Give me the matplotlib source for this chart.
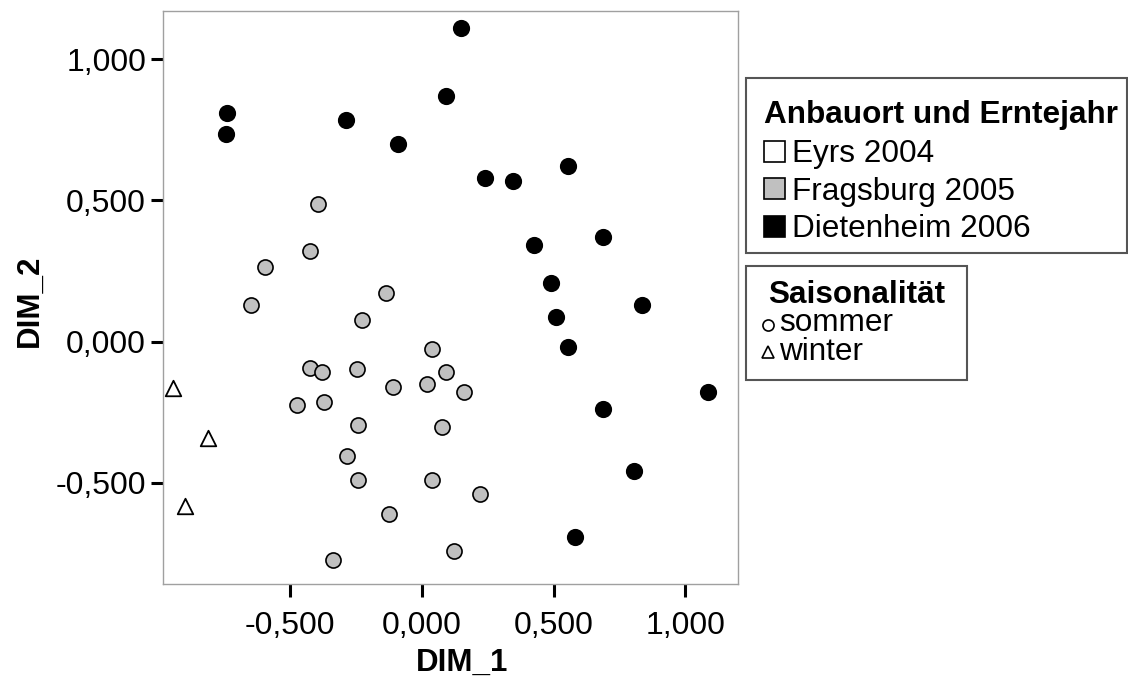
import numpy as np
import matplotlib.pyplot as plt
from matplotlib.patches import Rectangle
from matplotlib.lines import Line2D
from matplotlib.ticker import FuncFormatter

plt.rcParams['font.family'] = ['Liberation Sans', 'DejaVu Sans']

# Dietenheim 2006 (sommer)
diet_x = [-0.741, -0.744, -0.289, 0.149, 0.090, -0.090, 0.239, 0.347, 0.555, 0.426,
          0.688, 0.490, 0.508, 0.555, 0.836, 1.088, 0.688, 0.804, 0.582]
diet_y = [0.811, 0.737, 0.785, 1.110, 0.869, 0.700, 0.581, 0.569, 0.622, 0.341,
          0.370, 0.207, 0.089, -0.019, 0.129, -0.178, -0.237, -0.458, -0.691]

# Fragsburg 2005 (sommer)
frag_x = [-0.394, -0.426, -0.597, -0.647, -0.138, -0.227, -0.424, -0.381, -0.246, 0.037,
          0.092, -0.109, 0.019, 0.159, -0.476, -0.371, -0.285, -0.242, 0.077, -0.244,
          0.039, 0.221, -0.124, 0.123, -0.339]
frag_y = [0.487, 0.322, 0.263, 0.129, 0.171, 0.077, -0.092, -0.107, -0.097, -0.025,
          -0.106, -0.160, -0.151, -0.179, -0.225, -0.212, -0.405, -0.294, -0.302, -0.490,
          -0.490, -0.540, -0.610, -0.740, -0.774]

# Eyrs 2004 (winter)
eyrs_x = [-0.946, -0.811, -0.899]
eyrs_y = [-0.165, -0.342, -0.582]

orte = ['Eyrs 2004', 'Fragsburg 2005', 'Dietenheim 2006']
orte_farben = ['white', '#c0c0c0', 'black']
saison = ['sommer', 'winter']
saison_marker = ['o', '^']
grau = '#c0c0c0'

W, H = 1128, 682
def fx(x):
    return x / W
def fy(y):
    return 1 - y / H

fig = plt.figure(figsize=(W / 100, H / 100), dpi=100)
ax = fig.add_axes([fx(162.7), fy(583.7), 575 / W, 573 / H])

ax.scatter(frag_x, frag_y, s=118, marker='o', facecolor=grau, edgecolor='black', linewidth=1.2, zorder=3)
ax.scatter(diet_x, diet_y, s=125, marker='o', facecolor='black', edgecolor='black', linewidth=1.2, zorder=3)
ax.scatter(eyrs_x, eyrs_y, s=125, marker='^', facecolor='white', edgecolor='black', linewidth=1.3, zorder=3)

ax.set_xlim(-0.984, 1.199)
ax.set_ylim(-0.857, 1.172)
ax.set_xticks([-0.5, 0.0, 0.5, 1.0])
ax.set_yticks([-0.5, 0.0, 0.5, 1.0])
fmt = FuncFormatter(lambda v, p: f"{v:.3f}".replace('.', ','))
ax.xaxis.set_major_formatter(fmt)
ax.yaxis.set_major_formatter(fmt)
ax.tick_params(axis='both', length=9, width=2.2, color='black', labelsize=23)
ax.tick_params(axis='x', pad=10.5)
ax.tick_params(axis='y', pad=3)
for sp in ax.spines.values():
    sp.set_color('#a0a0a0')
    sp.set_linewidth(1.0)

ax.set_xlabel('DIM_1', fontsize=22.5, fontweight='bold')
ax.xaxis.set_label_coords((462 - 162.7) / 575, -(663 - 583.7) / 573)
ax.xaxis.label.set_va('center')
ax.set_ylabel('DIM_2', fontsize=22.5, fontweight='bold')
ax.yaxis.set_label_coords(-(162.7 - 30) / 575, (583.7 - 301) / 573)
ax.yaxis.label.set_va('center')

# Legende 1: Anbauort und Erntejahr
fig.add_artist(Rectangle((fx(746), fy(253.3)), (1127 - 746) / W, (253.3 - 77.7) / H,
                         transform=fig.transFigure, facecolor='white',
                         edgecolor='#555555', linewidth=1.5))
fig.text(fx(764), fy(123.5), 'Anbauort und Erntejahr', fontsize=22.7,
         fontweight='bold', ha='left', va='baseline')
for i, (name, farbe) in enumerate(zip(orte, orte_farben)):
    mitte = 151 + 37.5 * i
    fig.add_artist(Rectangle((fx(764), fy(mitte + 10.5)), 21 / W, 21 / H,
                             transform=fig.transFigure, facecolor=farbe,
                             edgecolor='black', linewidth=1.2))
    fig.text(fx(792), fy(mitte + 11.4), name, fontsize=22.7, ha='left', va='baseline')

# Legende 2: Saisonalität
fig.add_artist(Rectangle((fx(746), fy(380)), (967 - 746) / W, (380 - 266) / H,
                         transform=fig.transFigure, facecolor='white',
                         edgecolor='#555555', linewidth=1.5))
fig.text(fx(856.5), fy(302.5), 'Saisonalität', fontsize=22.7,
         fontweight='bold', ha='center', va='baseline')
zeilen = 27
for i, mk in enumerate(saison_marker):
    basis = 333 + zeilen * i
    fig.add_artist(Line2D([fx(768)], [fy(basis - 8)], marker=mk, markersize=8,
                          markerfacecolor='white', markeredgecolor='black',
                          markeredgewidth=1.2, transform=fig.transFigure))
# beide Einträge als ein mehrzeiliger Text (Grundlinie = letzte Zeile)
fig.text(fx(779), fy(333 + zeilen), '\n'.join(saison), fontsize=22.7, ha='left',
         va='baseline', linespacing=0.96)

plt.savefig('out.png', dpi=100)
